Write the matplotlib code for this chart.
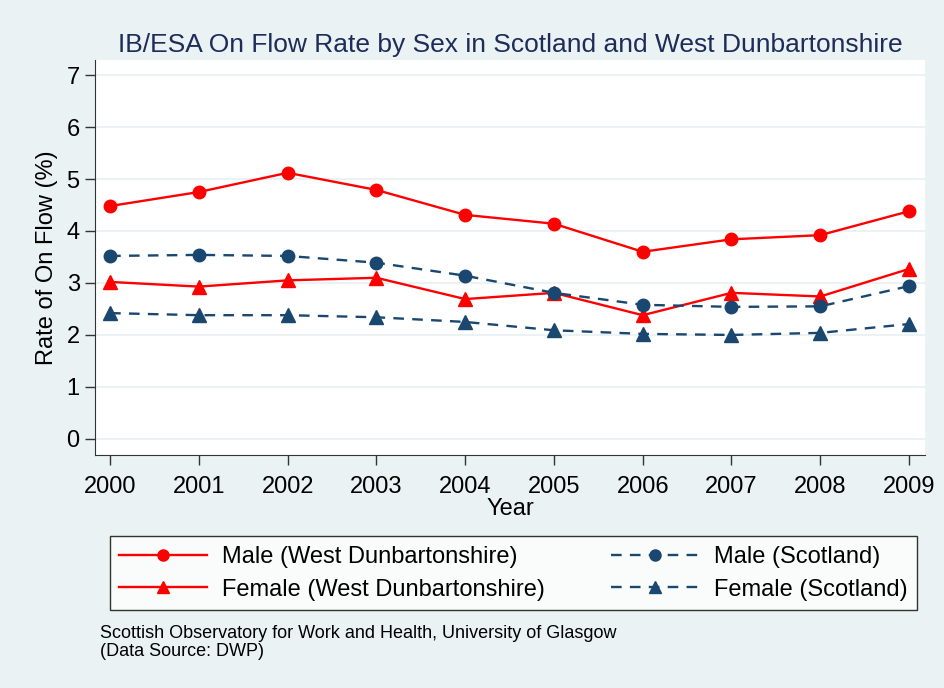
import matplotlib.pyplot as plt
from matplotlib.lines import Line2D

plt.rcParams['font.family'] = ['Liberation Sans', 'DejaVu Sans']

years = [2000, 2001, 2002, 2003, 2004, 2005, 2006, 2007, 2008, 2009]
male_wd = [4.48, 4.75, 5.12, 4.79, 4.31, 4.14, 3.60, 3.84, 3.92, 4.38]
female_wd = [3.02, 2.93, 3.05, 3.10, 2.69, 2.81, 2.38, 2.81, 2.74, 3.27]
male_sco = [3.52, 3.54, 3.52, 3.39, 3.14, 2.81, 2.58, 2.54, 2.55, 2.94]
female_sco = [2.42, 2.38, 2.38, 2.34, 2.25, 2.09, 2.02, 2.00, 2.04, 2.21]
labels = ["Male (West Dunbartonshire)", "Female (West Dunbartonshire)",
          "Male (Scotland)", "Female (Scotland)"]

bg = '#eaf2f3'
red = '#ff0000'
navy = '#1a476f'
dash = (0, (4.5, 3.5))

fig = plt.figure(figsize=(9.44, 6.88), dpi=100, facecolor=bg)
ax = fig.add_axes([95/944, 1 - 455/688, 830/944, 395/688])
ax.set_facecolor('white')

ax.plot(years, male_wd, color=red, lw=1.7, marker='o', ms=9)
ax.plot(years, female_wd, color=red, lw=1.7, marker='^', ms=9.5)
ax.plot(years, male_sco, color=navy, lw=1.7, ls=dash, marker='o', ms=9)
ax.plot(years, female_sco, color=navy, lw=1.7, ls=dash, marker='^', ms=9.5)

ax.set_xlim(1999.83, 2009.18)
ax.set_ylim(-0.31, 7.29)
ax.set_xticks(years)
ax.set_yticks(range(0, 8))
ax.grid(axis='y', color=bg, lw=1.5)
ax.set_axisbelow(True)
for s in ['top', 'right']:
    ax.spines[s].set_visible(False)
for s in ['left', 'bottom']:
    ax.spines[s].set_color('#333333')
ax.tick_params(direction='out', length=7, width=1, colors='#333333',
               labelsize=17, labelcolor='black', pad=4)
ax.tick_params(axis='x', pad=8)
ax.set_xlabel('Year', fontsize=17, labelpad=0)
ax.set_ylabel('Rate of On Flow (%)', fontsize=17, labelpad=6)
ax.set_title('IB/ESA On Flow Rate by Sex in Scotland and West Dunbartonshire',
             fontsize=19, color='#1e2c5a', pad=6)

handles = [
    Line2D([], [], color=red, lw=1.7, marker='o', ms=8),
    Line2D([], [], color=red, lw=1.7, marker='^', ms=8),
    Line2D([], [], color=navy, lw=1.7, ls=dash, marker='o', ms=8),
    Line2D([], [], color=navy, lw=1.7, ls=dash, marker='^', ms=8),
]
leg = fig.legend(handles, labels, ncol=2, loc='lower left',
                 bbox_to_anchor=(110/944, 1 - 610/688, 807/944, 78/688),
                 mode='expand', fontsize=17, frameon=True, fancybox=False,
                 edgecolor='black', handlelength=3.7, handletextpad=0.65,
                 borderpad=0.4, labelspacing=0.45, borderaxespad=0)
leg.get_frame().set_linewidth(1)

fig.text(100/944, 1 - 633/688, 'Scottish Observatory for Work and Health, University of Glasgow',
         fontsize=13, va='center')
fig.text(100/944, 1 - 651/688, '(Data Source: DWP)', fontsize=13, va='center')

fig.savefig('out.png', dpi=100, facecolor=bg)
